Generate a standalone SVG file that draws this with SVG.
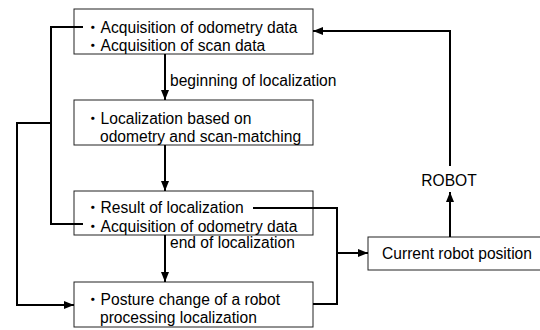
<svg xmlns="http://www.w3.org/2000/svg" width="540" height="330" viewBox="0 0 540 330">
<style>
.box{fill:#fff;stroke:#222;stroke-width:1}
.t{font-family:"Liberation Sans","Noto Sans CJK JP",Arial,sans-serif;font-size:15.6px;fill:#000}
.c{fill:none;stroke:#000;stroke-width:2}
</style>
<defs>
<marker id="ah" markerUnits="userSpaceOnUse" markerWidth="10" markerHeight="10" viewBox="0 0 10 10" refX="10" refY="5" orient="auto">
<path d="M0,1 L10,5 L0,9 Z" fill="#000"/>
</marker>
</defs>
<rect width="540" height="330" fill="#fff"/>
<g id="n1">
<rect class="box" x="74" y="9" width="239" height="45"/>
<text class="t" x="85" y="33">・Acquisition of odometry data</text>
<text class="t" x="85" y="51">・Acquisition of scan data</text>
</g>
<g id="n2">
<rect class="box" x="74" y="100" width="239" height="45"/>
<text class="t" x="85" y="124">・Localization based on</text>
<text class="t" x="100" y="142">odometry and scan-matching</text>
</g>
<g id="n3">
<rect class="box" x="74" y="191" width="239" height="44"/>
<text class="t" x="85" y="213">・Result of localization</text>
<text class="t" x="85" y="232">・Acquisition of odometry data</text>
</g>
<g id="n4">
<rect class="box" x="74" y="282" width="239" height="45"/>
<text class="t" x="85" y="305">・Posture change of a robot</text>
<text class="t" x="100" y="323">processing localization</text>
</g>
<g id="n5">
<rect class="box" x="368" y="237" width="180" height="33"/>
<text class="t" x="382" y="259">Current robot position</text>
</g>
<g id="labels">
<text class="t" x="170" y="86">beginning of localization</text>
<text class="t" x="170" y="248">end of localization</text>
<text class="t" x="449" y="186" text-anchor="middle">ROBOT</text>
</g>
<g id="connectors">
<path class="c" d="M165,54 V100" marker-end="url(#ah)"/>
<path class="c" d="M165,145 V191" marker-end="url(#ah)"/>
<path class="c" d="M165,235 V282" marker-end="url(#ah)"/>
<path class="c" d="M83,27 H51 V224 H83"/>
<path class="c" d="M51,123 H17 V305 H74" marker-end="url(#ah)"/>
<path class="c" d="M253,208 H337 V304 H313"/>
<path class="c" d="M337,253 H368" marker-end="url(#ah)"/>
<path class="c" d="M450,237 V192" marker-end="url(#ah)"/>
<path class="c" d="M450,166 V31 H313" marker-end="url(#ah)"/>
</g>
</svg>
